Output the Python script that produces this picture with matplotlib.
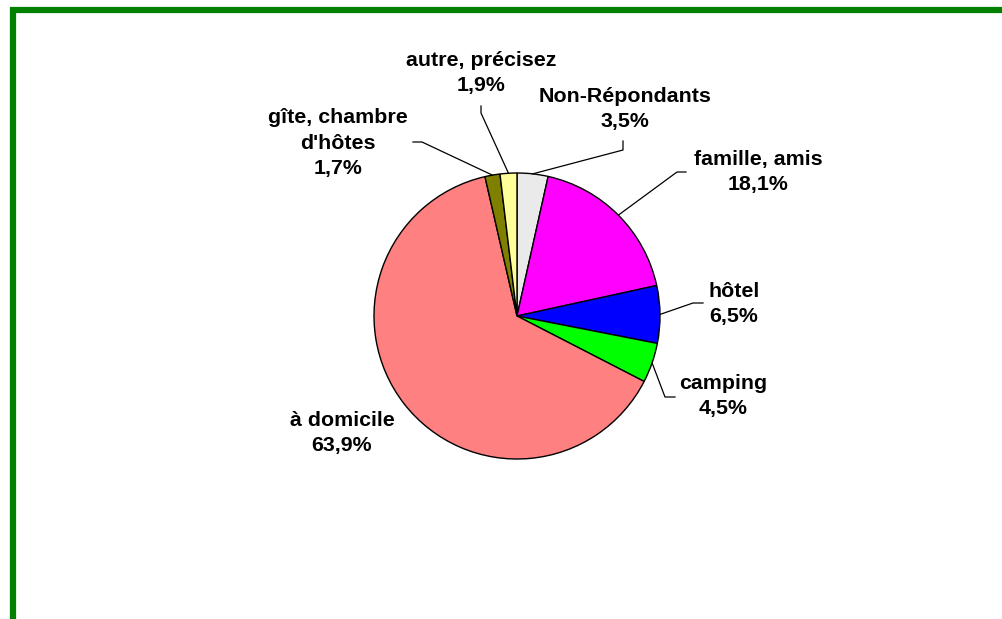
import numpy as np
import matplotlib.pyplot as plt
from matplotlib.patches import Rectangle

# données (sens horaire depuis 12h)
categories = ["Non-Répondants", "famille, amis", "hôtel", "camping",
              "à domicile", "gîte, chambre\nd'hôtes", "autre, précisez"]
values = [3.5, 18.1, 6.5, 4.5, 63.9, 1.7, 1.9]
colors = ["#EAEAEA", "#FF00FF", "#0000FF", "#00FF00",
          "#FF8080", "#808000", "#FFFF99"]

W, H = 1003, 619
fig = plt.figure(figsize=(W / 100, H / 100), dpi=100)
ax = fig.add_axes([0, 0, 1, 1])

cx, cy, R = 517, H - 316, 143
wedges, _ = ax.pie(values, colors=colors, startangle=90, counterclock=False,
                   center=(cx, cy), radius=R,
                   wedgeprops=dict(edgecolor="black", linewidth=1.0))

ax.set_xlim(0, W)
ax.set_ylim(0, H)
ax.set_aspect("equal")
ax.axis("off")

# cadre vert
ax.add_patch(Rectangle((13, -20), W, H - 10 + 20, fill=False,
                       edgecolor="#008000", lw=4.5, zorder=5))

fmt = lambda v: f"{v:.1f}%".replace(".", ",")

# position des étiquettes (pixels, haut = 0) et coudes des traits de rappel
label_pos = [(625, 109), (758, 172), (734, 304), (723, 396),
             (342, 433), (338, 143), (481, 73)]
knees = [[(623, 150), (623, 141)],
         [(677, 172), (686, 172)],
         [(693, 303), (703, 303)],
         [(665, 397), (675, 397)],
         None,
         [(422, 142), (413, 142)],
         [(481, 113), (481, 106)]]

angles = 90 - (np.cumsum(values) - np.array(values) / 2) / sum(values) * 360
for cat, v, (lx, ly), a, kn in zip(categories, values, label_pos, angles, knees):
    ax.text(lx, H - ly, f"{cat}\n{fmt(v)}", ha="center", va="center",
            fontsize=15.4, fontweight="bold", family="Liberation Sans",
            linespacing=1.45)
    if kn is not None:
        ex = cx + R * np.cos(np.radians(a))
        ey = cy + R * np.sin(np.radians(a))
        xs = [ex] + [p[0] for p in kn]
        ys = [ey] + [H - p[1] for p in kn]
        ax.plot(xs, ys, color="black", lw=0.9)

fig.savefig("out.png", dpi=100)
